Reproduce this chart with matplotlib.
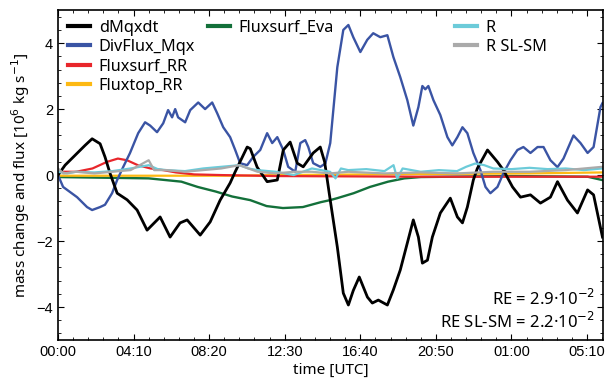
import numpy as np
import matplotlib
matplotlib.use('Agg')
import matplotlib.pyplot as plt
from matplotlib.ticker import MultipleLocator, FixedLocator
from matplotlib.lines import Line2D

plt.rcParams['font.family'] = ['Noto Sans', 'DejaVu Sans']

# time in hours since 00:00 UTC, values in 10^6 kg/s
t_dm = [0, 0.39, 0.94, 1.49, 1.88, 2.32, 2.59, 2.87, 3.26, 3.81, 4.36, 4.91, 5.63, 6.18,
        6.73, 7.12, 7.84, 8.39, 8.94, 9.49, 9.77, 10.43, 10.60, 10.98, 11.53, 12.09,
        12.42, 12.80, 13.19, 13.52, 14.07, 14.46, 14.70, 15.01, 15.40, 15.73, 16.01,
        16.28, 16.61, 17.06, 17.33, 17.66, 18.16, 18.49, 18.87, 19.26, 19.59, 19.87,
        20.09, 20.37, 20.64, 21.08, 21.63, 22.02, 22.30, 22.57, 22.90, 23.12, 23.68,
        24.23, 24.56, 25.06, 25.50, 26.05, 26.60, 27.15, 27.54, 28.09, 28.64, 29.20,
        29.53, 30.02]
dmqxdt = [0, 0.3, 0.6, 0.9, 1.1, 0.95, 0.55, 0.05, -0.55, -0.75, -1.06, -1.67, -1.27, -1.88,
          -1.45, -1.36, -1.82, -1.42, -0.76, -0.24, 0.1, 0.85, 0.8, 0.24, -0.2, -0.15,
          0.76, 1.0, 0.36, 0.25, 0.67, 0.85, 0.4, -0.76, -2.18, -3.58, -3.94,
          -3.5, -3.09, -3.7, -3.88, -3.79, -3.94, -3.48, -2.88, -2.06, -1.36, -1.88,
          -2.67, -2.58, -1.88, -1.15, -0.7, -1.27, -1.45, -0.97, -0.15, 0.2, 0.76,
          0.4, 0.15, -0.36, -0.67, -0.6, -0.85, -0.67, -0.2, -0.76, -1.15, -0.45,
          -0.6, -1.88]

t_div = [0, 0.28, 1.05, 1.60, 1.88, 2.32, 2.59, 2.98, 3.26, 3.59, 3.97, 4.42, 4.80, 5.08,
         5.46, 5.80, 6.07, 6.29, 6.46, 6.62, 7.01, 7.29, 7.73, 8.11, 8.50, 8.78, 9.11,
         9.49, 9.77, 10.04, 10.43, 10.76, 11.15, 11.53, 11.81, 12.09, 12.42, 12.69,
         13.08, 13.36, 13.63, 13.80, 14.07, 14.46, 14.74, 15.01, 15.40, 15.73, 16.01,
         16.28, 16.67, 17.05, 17.38, 17.77, 18.16, 18.49, 18.87, 19.26, 19.59, 19.87,
         20.09, 20.25, 20.42, 20.70, 21.08, 21.47, 21.74, 22.02, 22.30, 22.57, 22.90,
         23.29, 23.57, 23.84, 24.23, 24.56, 24.95, 25.33, 25.66, 26.05, 26.44, 26.77,
         27.15, 27.54, 27.87, 28.42, 28.81, 29.20, 29.53, 29.91, 30.02]
divflux = [0, -0.36, -0.67, -0.97, -1.06, -0.97, -0.9, -0.55, -0.15, 0.24, 0.67, 1.27, 1.6, 1.5,
           1.3, 1.57, 1.97, 1.75, 2.0, 1.75, 1.6, 1.97, 2.2, 2.0, 2.2, 1.87, 1.45,
           1.15, 0.76, 0.36, 0.3, 0.55, 0.76, 1.27, 0.97, 1.15, 0.76, 0.25,
           0.1, 0.97, 1.06, 0.85, 0.36, 0.25, 0.35, 0.97, 3.27, 4.4, 4.55,
           4.18, 3.73, 4.1, 4.3, 4.18, 4.24, 3.58, 2.97, 2.27, 1.5, 2.06,
           2.7, 2.6, 2.7, 2.27, 1.82, 1.15, 0.9, 1.15, 1.45, 1.27, 0.67,
           0.15, -0.36, -0.55, -0.36, 0.06, 0.45, 0.76, 0.85, 0.67, 0.85, 0.85,
           0.45, 0.24, 0.5, 1.2, 0.97, 0.67, 0.85, 2.06, 2.18]

t_rr = [0, 1.0, 1.9, 2.7, 3.3, 3.8, 4.4, 5.1, 5.8, 6.5, 7.5, 9.0, 12.0, 20.0, 30.0]
fluxsurf_rr = [0.1, 0.1, 0.2, 0.4, 0.5, 0.45, 0.3, 0.2, 0.15, 0.08, 0.02, 0.0, -0.03, -0.05, -0.05]

t_top = [0, 10, 12, 20, 26, 30]
fluxtop_rr = [-0.02, -0.02, 0.0, 0.03, 0.05, 0.08]

t_eva = [0, 5, 6.8, 7.7, 8.7, 9.6, 10.6, 11.5, 12.4, 13.5, 14.5, 15.0, 15.4, 16.3, 17.2,
         18.2, 19.1, 20.0, 25.0, 29.2, 30.0]
fluxsurf_eva = [-0.06, -0.1, -0.2, -0.36, -0.5, -0.65, -0.76, -0.94, -1.0, -0.97, -0.82, -0.76,
                -0.7, -0.55, -0.36, -0.2, -0.1, -0.06, -0.03, -0.05, -0.15]

t_r = [0, 0.5, 1, 2, 3, 4, 4.5, 5, 5.5, 6, 7, 8, 9, 10, 10.5, 11, 12, 12.5, 13, 13.5, 14,
       14.5, 15, 15.3, 15.6, 16, 17, 18, 18.5, 18.7, 19, 20, 21, 22, 22.5, 23, 23.5, 24,
       25, 26, 27, 28, 29, 30]
r_vals = [0.1, 0.05, 0.1, 0.08, 0.12, 0.2, 0.25, 0.3, 0.18, 0.15, 0.12, 0.2, 0.25, 0.3, 0.2,
          0.15, 0.1, 0.05, 0.0, 0.1, 0.2, 0.15, 0.1, -0.1, 0.2, 0.15, 0.18, 0.12, 0.3, -0.1,
          0.2, 0.1, 0.15, 0.12, 0.25, 0.35, 0.3, 0.2, 0.18, 0.22, 0.18, 0.2, 0.15, 0.2]

t_rsl = [0, 0.3, 1, 2, 3, 4, 5, 5.3, 6, 7, 8, 9, 10, 10.5, 11, 12, 13, 14, 15, 16, 18, 20,
         22, 24, 26, 28, 29, 30]
r_slsm = [0.2, 0.05, 0.1, 0.05, 0.1, 0.15, 0.45, 0.15, 0.15, 0.1, 0.15, 0.2, 0.3, 0.2, 0.1,
          0.05, 0.1, 0.1, 0.05, 0.1, 0.05, 0.08, 0.05, 0.1, 0.1, 0.15, 0.2, 0.25]

tick_labels = ['00:00', '04:10', '08:20', '12:30', '16:40', '20:50', '01:00', '05:10']

fig = plt.figure(figsize=(6.14, 3.84), dpi=100)
ax = fig.add_axes([0.0945, 0.1146, 0.8876, 0.859])

ax.plot(t_eva, fluxsurf_eva, color='#13703a', lw=1.7)
ax.plot(t_top, fluxtop_rr, color='#fdb913', lw=1.6)
ax.plot(t_rr, fluxsurf_rr, color='#e8262b', lw=1.6)
ax.plot(t_div, divflux, color='#3a54a4', lw=1.7)
ax.plot(t_dm, dmqxdt, color='black', lw=2.0)
ax.plot(t_r, r_vals, color='#6ccbd9', lw=1.6)
ax.plot(t_rsl, r_slsm, color='#aaaaaa', lw=1.6)

ax.set_xlim(0, 30.05)
ax.set_ylim(-5, 5)
ax.xaxis.set_major_locator(FixedLocator([i * 25 / 6 for i in range(8)]))
ax.set_xticklabels(tick_labels)
ax.xaxis.set_minor_locator(MultipleLocator(5 / 6))
ax.yaxis.set_major_locator(MultipleLocator(2))
ax.yaxis.set_minor_locator(MultipleLocator(0.4))
ax.tick_params(which='both', direction='in', top=True, right=True)
ax.tick_params(which='major', length=4, labelsize=10.5)
ax.tick_params(which='minor', length=2)
for lab in ax.get_xticklabels() + ax.get_yticklabels():
    lab.set_family(['Liberation Sans', 'DejaVu Sans'])
for s in ax.spines.values():
    s.set_linewidth(1.2)

ax.set_xlabel('time [UTC]', fontsize=11, labelpad=3)
ax.set_ylabel('mass change and flux [10$^6$ kg s$^{-1}$]', fontsize=11, labelpad=3)

kw = dict(frameon=False, fontsize=11.7, handlelength=1.35, handletextpad=0.55,
          labelspacing=0.2, borderaxespad=0.3, borderpad=0.3)
leg1 = ax.legend([Line2D([], [], color='black', lw=3), Line2D([], [], color='#3a54a4', lw=3),
                  Line2D([], [], color='#e8262b', lw=3), Line2D([], [], color='#fdb913', lw=3)],
                 ['dMqxdt', 'DivFlux_Mqx', 'Fluxsurf_RR', 'Fluxtop_RR'],
                 loc='upper left', bbox_to_anchor=(0.0, 1.0), **kw)
ax.add_artist(leg1)
leg2 = ax.legend([Line2D([], [], color='#13703a', lw=3)], ['Fluxsurf_Eva'],
                 loc='upper left', bbox_to_anchor=(0.257, 1.0), **kw)
ax.add_artist(leg2)
ax.legend([Line2D([], [], color='#6ccbd9', lw=3), Line2D([], [], color='#aaaaaa', lw=3)],
          ['R', 'R SL-SM'], loc='upper left', bbox_to_anchor=(0.71, 1.0), **kw)

ax.text(0.985, 0.105, 'RE = 2.9·10$^{-2}$', transform=ax.transAxes, ha='right', va='baseline',
        fontsize=12)
ax.text(0.985, 0.035, 'RE SL-SM = 2.2·10$^{-2}$', transform=ax.transAxes, ha='right',
        va='baseline', fontsize=12)

fig.savefig('out.png', dpi=100)
